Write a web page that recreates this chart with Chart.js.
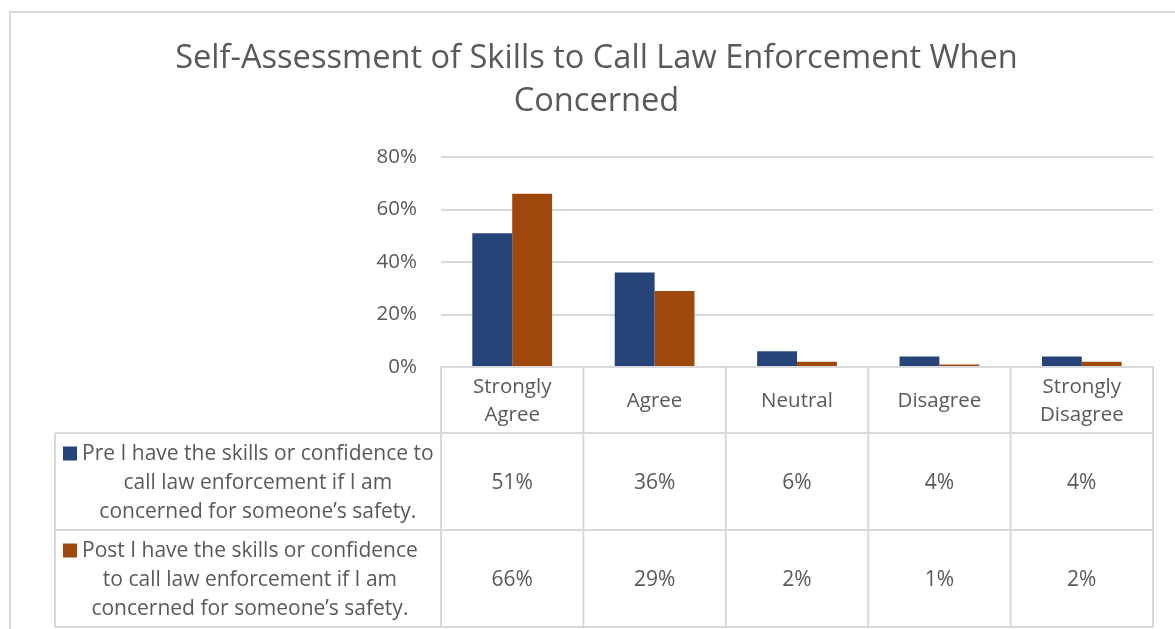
<!DOCTYPE html>
<html>
<head>
<meta charset="utf-8">
<title>Self-Assessment of Skills to Call Law Enforcement When Concerned</title>
<script src="https://cdn.jsdelivr.net/npm/chart.js@4.4.1/dist/chart.umd.min.js"></script>
<style>
  html, body { margin: 0; padding: 0; background: #ffffff; overflow: hidden; }
  #wrap { position: relative; width: 1175px; height: 629px; }
  #frame {
    position: absolute; left: 9px; top: 11px; width: 1200px; height: 700px;
    border-top: 2px solid #d9d9d9; border-left: 2px solid #d9d9d9;
  }
  #chart { position: absolute; left: 0; top: 0; }
</style>
</head>
<body>
<div id="wrap">
  <div id="frame"></div>
  <canvas id="chart" width="1175" height="629"></canvas>
</div>
<script>
// ===============================
// Data
// ===============================
const categories = [["Strongly", "Agree"], "Agree", "Neutral", "Disagree", ["Strongly", "Disagree"]];
const preValues = [51, 36, 6, 4, 4];
const postValues = [66, 29, 2, 1, 2];
const preLabelLines = ["Pre I have the skills or confidence to", "call law enforcement if I am", "concerned for someone\u2019s safety."];
const postLabelLines = ["Post I have the skills or confidence", "to call law enforcement if I am", "concerned for someone\u2019s safety."];
const yTickMax = 80;
const yTickStep = 20;

const preColor = "#264478";
const postColor = "#9E480E";
const textColor = "#595959";
const lineColor = "#d9d9d9";
const fontFamily = "'Open Sans', Lato, sans-serif";

// ===============================
// Data table under the plot
// ===============================
const dataTablePlugin = {
	id: "dataTable",
	afterDraw(chart) {
		const ctx = chart.ctx;
		const x = chart.scales.x;
		const area = chart.chartArea;
		const n = categories.length;
		const colW = x.width / n;
		const headTop = area.bottom;
		const headBottom = x.bottom;
		const rowH = 97;
		const tableLeft = 55;
		const tableRight = x.right;
		const rows = [
			{ lines: preLabelLines, color: preColor, values: preValues },
			{ lines: postLabelLines, color: postColor, values: postValues }
		];
		const tableBottom = headBottom + rowH * rows.length;

		ctx.save();
		ctx.strokeStyle = lineColor;
		ctx.lineWidth = 2;

		// horizontal rules
		for (let r = 0; r <= rows.length; r++) {
			const y = headBottom + r * rowH;
			ctx.beginPath();
			ctx.moveTo(tableLeft, y);
			ctx.lineTo(tableRight, y);
			ctx.stroke();
		}
		// left edge of the legend column
		ctx.beginPath();
		ctx.moveTo(tableLeft, headBottom);
		ctx.lineTo(tableLeft, tableBottom);
		ctx.stroke();
		// column separators
		for (let i = 0; i <= n; i++) {
			const cx = x.left + i * colW;
			ctx.beginPath();
			ctx.moveTo(cx, headTop);
			ctx.lineTo(cx, tableBottom);
			ctx.stroke();
		}

		ctx.font = "21px " + fontFamily;
		ctx.fillStyle = textColor;
		ctx.textBaseline = "middle";

		rows.forEach((row, r) => {
			const midY = headBottom + r * rowH + rowH / 2 + 2;
			const lineH = 29;
			const firstY = midY - lineH * (row.lines.length - 1) / 2;

			// legend key
			ctx.fillStyle = row.color;
			ctx.fillRect(63, firstY - 8, 14, 14);

			// series name, lines centred in their own block
			const textLeft = 82;
			const blockW = Math.max(...row.lines.map(l => ctx.measureText(l).width));
			ctx.fillStyle = textColor;
			ctx.textAlign = "center";
			row.lines.forEach((line, k) => {
				ctx.fillText(line, textLeft + blockW / 2, firstY + k * lineH);
			});

			// values
			row.values.forEach((v, i) => {
				ctx.fillText(v + "%", x.getPixelForValue(i), midY);
			});
		});
		ctx.restore();
	}
};

// ===============================
// Chart
// ===============================
new Chart(document.getElementById("chart"), {
	type: "bar",
	data: {
		labels: categories,
		datasets: [
			{
				label: preLabelLines.join(" "),
				data: preValues,
				backgroundColor: preColor,
				borderWidth: 0
			},
			{
				label: postLabelLines.join(" "),
				data: postValues,
				backgroundColor: postColor,
				borderWidth: 0
			}
		]
	},
	options: {
		responsive: false,
		animation: false,
		layout: {
			padding: { left: 40, right: 22, top: 0, bottom: 196 }
		},
		datasets: {
			bar: { categoryPercentage: 0.56, barPercentage: 1 }
		},
		plugins: {
			legend: { display: false },
			tooltip: { enabled: false },
			title: {
				display: true,
				text: ["Self-Assessment of Skills to Call Law Enforcement When", "Concerned"],
				color: textColor,
				font: { family: fontFamily, size: 32.6, weight: "normal", lineHeight: 1.32 },
				padding: { top: 37, bottom: 34 }
			}
		},
		scales: {
			x: {
				offset: true,
				grid: { display: false, drawTicks: false },
				border: { display: true, color: lineColor, width: 2 },
				ticks: {
					color: textColor,
					font: { family: fontFamily, size: 20.5, lineHeight: 1.37 },
					padding: 20,
					maxRotation: 0,
					autoSkip: false,
					crossAlign: "center"
				},
				afterFit(scale) { scale.height = 66; }
			},
			y: {
				min: 0,
				max: yTickMax,
				grid: { color: lineColor, lineWidth: 2, drawTicks: false },
				border: { display: false },
				ticks: {
					stepSize: yTickStep,
					color: textColor,
					font: { family: fontFamily, size: 20.5 },
					padding: 24,
					callback: v => v + "%"
				},
				afterFit(scale) { scale.width = 401; }
			}
		}
	},
	plugins: [dataTablePlugin]
});
</script>
</body>
</html>
